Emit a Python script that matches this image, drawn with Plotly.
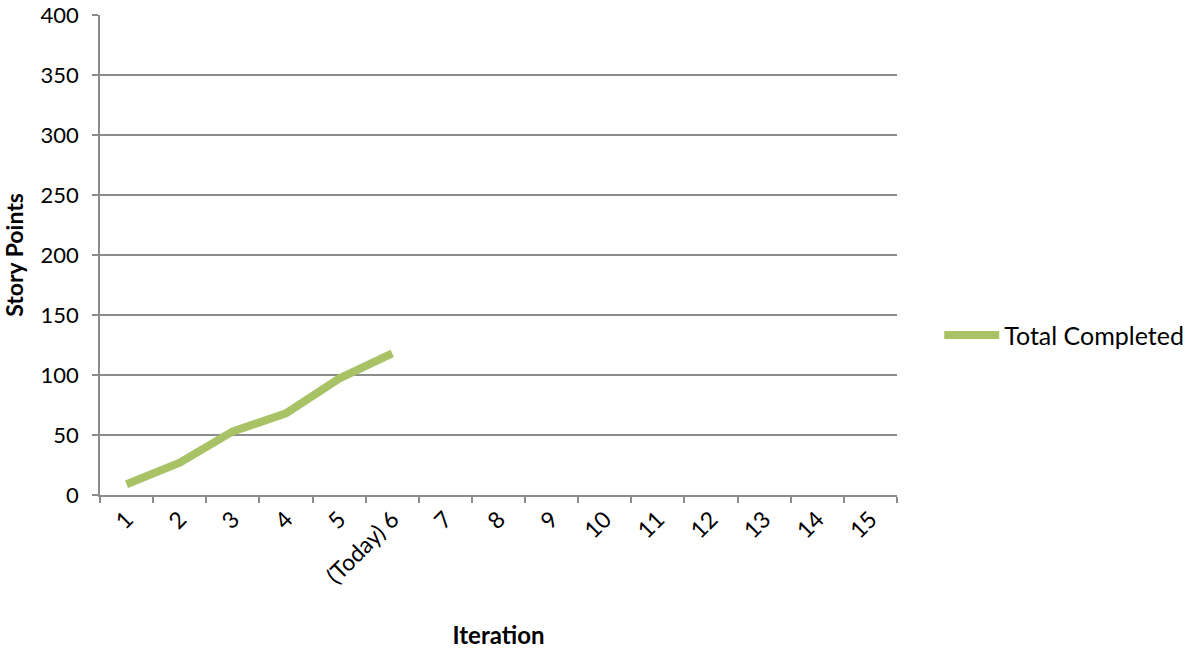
import plotly.graph_objects as go

categories = ["1", "2", "3", "4", "5", "(Today) 6", "7", "8", "9", "10", "11", "12", "13", "14", "15"]
completed_x = ["1", "2", "3", "4", "5", "(Today) 6"]
completed_y = [9, 27, 53, 68, 97, 118]
y_ticks = [0, 50, 100, 150, 200, 250, 300, 350, 400]

FONT = "Lato, Carlito, Calibri, sans-serif"
GRID = "#8c8c8c"

fig = go.Figure()
fig.add_trace(go.Scatter(
    x=completed_x, y=completed_y, mode="lines", name="Total Completed",
    line=dict(color="#a7c366", width=8, shape="linear"),
))

fig.update_layout(
    width=1189, height=650,
    margin=dict(l=100, r=292, t=15, b=155, autoexpand=False),
    plot_bgcolor="white", paper_bgcolor="white",
    font=dict(family=FONT, size=21, color="#000000"),
    showlegend=True,
    legend=dict(x=1.053, y=0.333, xanchor="left", yanchor="middle",
                itemwidth=55,
                font=dict(family=FONT, size=25, color="#000000"),
                bgcolor="rgba(0,0,0,0)"),
    xaxis=dict(
        type="category", categoryorder="array", categoryarray=categories,
        tickmode="array", tickvals=categories, ticktext=categories,
        range=[-0.5, 14.5], tickangle=-45, tickson="boundaries",
        ticks="outside", ticklen=6, tickcolor=GRID, tickwidth=1.5,
        showline=True, linecolor=GRID, linewidth=1.5, showgrid=False, zeroline=False,
        automargin=False, ticklabeloverflow="allow",
        tickfont=dict(family=FONT, size=23),
        title=dict(text="<b>Iteration</b>", font=dict(family=FONT, size=24), standoff=40),
    ),
    yaxis=dict(
        range=[0, 400], tickmode="array", tickvals=y_ticks,
        ticks="outside", ticklen=6, tickcolor=GRID, tickwidth=1.5,
        showline=True, linecolor=GRID, linewidth=1.5,
        showgrid=True, gridcolor=GRID, gridwidth=1.5, zeroline=False,
        automargin=False, ticklabelstandoff=9, ticklabeloverflow="allow",
        tickfont=dict(family=FONT, size=22),
        title=dict(text="<b>Story Points</b>", font=dict(family=FONT, size=23), standoff=29),
    ),
)

fig.write_html(
    "out.html",
    config={"displayModeBar": False},
    post_script="document.body.style.margin='0px';document.body.style.overflow='hidden';",
)
